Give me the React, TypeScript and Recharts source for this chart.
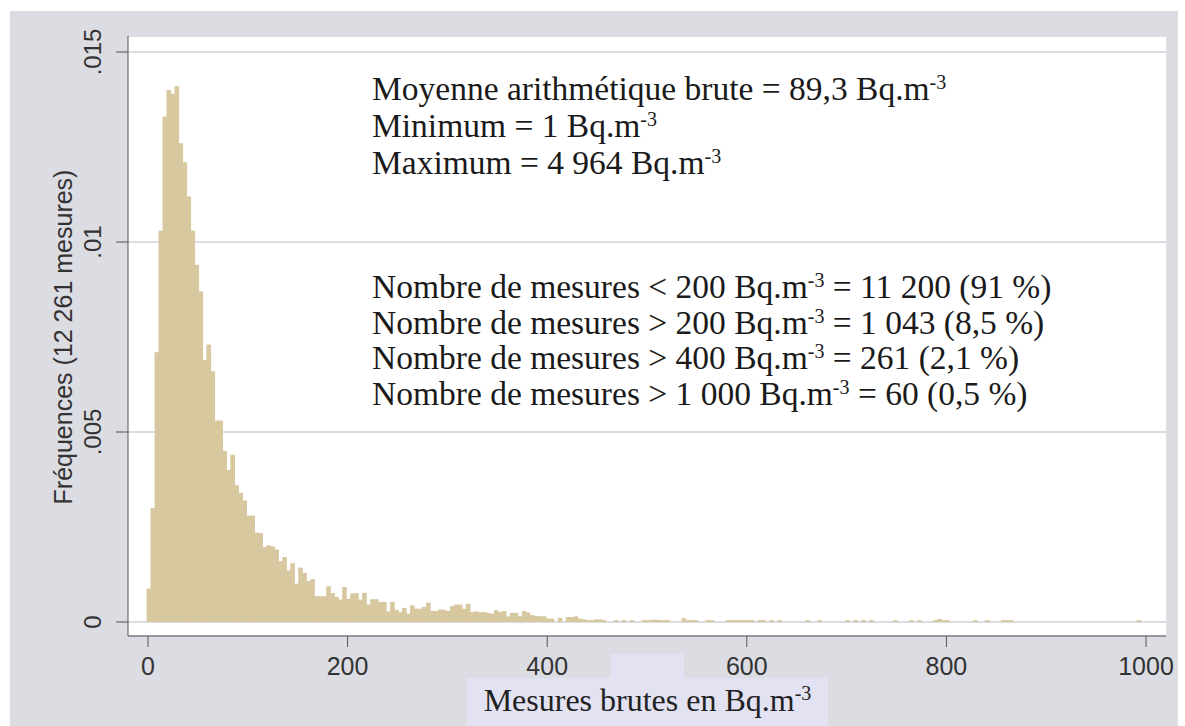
import { Bar, BarChart, CartesianGrid, XAxis, YAxis } from "recharts";

// Histogram of raw radon measurements, density per 4 Bq.m-3 bin
const binStart = -1;
const binWidth = 4;

// consecutive bins from binStart up to ~440 Bq.m-3
const bodyDensity = [
  0.00088, 0.003, 0.0071, 0.0103, 0.0133, 0.014, 0.0139, 0.0141, 0.0126, 0.0121,
  0.0112, 0.0103, 0.0094, 0.0087, 0.0069, 0.0073, 0.0066, 0.0053, 0.0053, 0.0045,
  0.004, 0.0044, 0.0036, 0.0034, 0.0032, 0.0028, 0.0028, 0.00235, 0.00234, 0.00197,
  0.00202, 0.00199, 0.00191, 0.0016, 0.00171, 0.00136, 0.00155, 0.00101, 0.00143, 0.00129,
  0.00108, 0.00113, 0.00068, 0.00068, 0.00068, 0.00094, 0.00076, 0.00066, 0.00059, 0.00092,
  0.00061, 0.00075, 0.00076, 0.00059, 0.00077, 0.00046, 0.0006, 0.0006, 0.00053, 0.00053,
  0.00028, 0.00053, 0.00032, 0.00026, 0.00037, 0.00022, 0.00044, 0.00035, 0.00035, 0.0004,
  0.00051, 0.00029, 0.00029, 0.00033, 0.00032, 0.00029, 0.00042, 0.00046, 0.00046, 0.00035,
  0.00048, 0.00026, 0.00028, 0.00026, 0.00026, 0.00024, 0.00022, 0.00031, 0.00026, 0.00029,
  0.00015, 0.00024, 0.00024, 0.00015, 0.00029, 0.00025, 0.00018, 0.00016, 0.00015, 0.00015,
  0.00009, 0.00009, 0, 0.00011, 0, 0.00013, 0.00013, 0.00015, 0.00009, 0.00007,
];

// sparse tail: lower edge of each non-empty bin and its density
const tailFrom = [
  439, 443, 447, 451, 455, 467, 475, 483, 495, 499, 503, 507, 511, 515, 519, 535, 539, 543, 547,
  559, 563, 579, 583, 587, 591, 595, 599, 603, 611, 615, 623, 631, 659, 671, 699, 707, 715, 723,
  747, 763, 771, 787, 791, 795, 799, 827, 839, 855, 859, 863, 991,
];
const tailDensity = [
  0.00005, 0.00005, 0.00007, 0.00007, 0.00005, 0.00005, 0.00005, 0.00005, 0.00005, 0.00005,
  0.00006, 0.00006, 0.00005, 0.00005, 0.00005, 0.0001, 0.00005, 0.00005, 0.00005,
  0.00005, 0.00005, 0.00005, 0.00005, 0.00005, 0.00005, 0.00005, 0.00005, 0.00005, 0.00005,
  0.00005, 0.00005, 0.00005, 0.00005, 0.00005, 0.00005, 0.00005, 0.00005, 0.00005,
  0.00005, 0.00005, 0.00005, 0.00005, 0.00008, 0.00005, 0.00005, 0.00005, 0.00005, 0.00005,
  0.00005, 0.00005, 0.00005,
];

const xTicks = [0, 200, 400, 600, 800, 1000];
const yTicks = [0, 0.005, 0.01, 0.015];
const yTickLabels = ["0", ".005", ".01", ".015"];

const summaryLines = [
  ["Moyenne arithmétique brute = 89,3 Bq.m", ""],
  ["Minimum = 1 Bq.m", ""],
  ["Maximum = 4 964 Bq.m", ""],
];
const countLines = [
  ["Nombre de mesures < 200 Bq.m", " = 11 200 (91 %)"],
  ["Nombre de mesures > 200 Bq.m", " = 1 043 (8,5 %)"],
  ["Nombre de mesures > 400 Bq.m", " = 261 (2,1 %)"],
  ["Nombre de mesures > 1 000 Bq.m", " = 60 (0,5 %)"],
];

const rows = [
  ...bodyDensity.map((d, i) => ({ x: binStart + i * binWidth + binWidth / 2, d })),
  ...tailFrom.map((from, i) => ({ x: from + binWidth / 2, d: tailDensity[i] })),
].filter((r) => r.d > 0);

const sans = '"Liberation Sans", Arial, sans-serif';
const serif = '"Liberation Serif", "Times New Roman", serif';
const ink = "#333";
const axisColor = "#555";
const barFill = "#d8c8a0";

function YTick({ y, payload }: any) {
  const i = yTicks.indexOf(payload.value);
  return (
    <text x={101} y={y} transform={`rotate(-90 101 ${y})`} textAnchor="middle" fontFamily={sans} fontSize={24} fill={ink}>
      {yTickLabels[i]}
    </text>
  );
}

function XTick({ x, payload }: any) {
  return (
    <text x={x} y={675} textAnchor="middle" fontFamily={sans} fontSize={25} fill={ink}>
      {payload.value}
    </text>
  );
}

// bars touch each other: widen every rect a little past its bin so no seam shows
function BinRect({ x, y, width, height }: any) {
  const cx = x + width / 2;
  return <rect x={cx - 2.3} y={y} width={4.6} height={height} fill={barFill} />;
}

function Sup() {
  return <span style={{ position: "relative", top: -11, fontSize: 20, lineHeight: 0 }}>-3</span>;
}

function Line({ text, after }: { text: string; after: string }) {
  return (
    <div style={{ whiteSpace: "nowrap" }}>
      {text}
      <Sup />
      {after}
    </div>
  );
}

export default function App() {
  return (
    <div style={{ position: "absolute", left: 0, top: 0, width: 1185, height: 726, background: "#fff", overflow: "hidden" }}>
      <div style={{ position: "absolute", left: 10, top: 11, width: 1168, height: 715, background: "#dcdce3" }} />
      <div style={{ position: "absolute", left: 611, top: 654, width: 73, height: 24, background: "#e2e2f2" }} />
      <div style={{ position: "absolute", left: 467, top: 678, width: 361, height: 48, background: "#e2e2f2" }} />
      <div style={{ position: "absolute", left: 0, top: 0 }}>
        <BarChart width={1185} height={726} data={rows} margin={{ top: 36, right: 19, left: 68, bottom: 60 }}>
          <CartesianGrid vertical={false} fill="#fff" stroke="#dcdce4" strokeWidth={2} />
          <XAxis
            dataKey="x"
            type="number"
            domain={[-20, 1020]}
            ticks={xTicks}
            allowDataOverflow
            height={30}
            tickSize={11}
            stroke={axisColor}
            tick={<XTick />}
          />
          <YAxis
            type="number"
            domain={[-0.000368, 0.015421]}
            ticks={yTicks}
            allowDataOverflow
            width={60}
            tickSize={12}
            stroke={axisColor}
            tick={<YTick />}
          />
          <Bar dataKey="d" fill={barFill} shape={<BinRect />} isAnimationActive={false} />
        </BarChart>
      </div>
      <div
        style={{
          position: "absolute", left: 63 - 250, top: 337 - 15, width: 500, height: 30, lineHeight: "30px",
          textAlign: "center", transform: "rotate(-90deg)", fontFamily: sans, fontSize: 25, color: ink,
        }}
      >
        Fréquences (12 261 mesures)
      </div>
      <div style={{ position: "absolute", left: 372, top: 70, fontFamily: serif, fontSize: 33.5, lineHeight: "37px", color: "#1a1a1a" }}>
        {summaryLines.map(([t, a]) => <Line key={t} text={t} after={a} />)}
      </div>
      <div style={{ position: "absolute", left: 372, top: 269, fontFamily: serif, fontSize: 33.5, lineHeight: "35.7px", color: "#1a1a1a" }}>
        {countLines.map(([t, a]) => <Line key={t} text={t} after={a} />)}
      </div>
      <div
        style={{
          position: "absolute", left: 467, top: 678, width: 361, height: 48, lineHeight: "44px",
          textAlign: "center", fontFamily: serif, fontSize: 32, color: "#222",
        }}
      >
        Mesures brutes en Bq.m<Sup />
      </div>
    </div>
  );
}
